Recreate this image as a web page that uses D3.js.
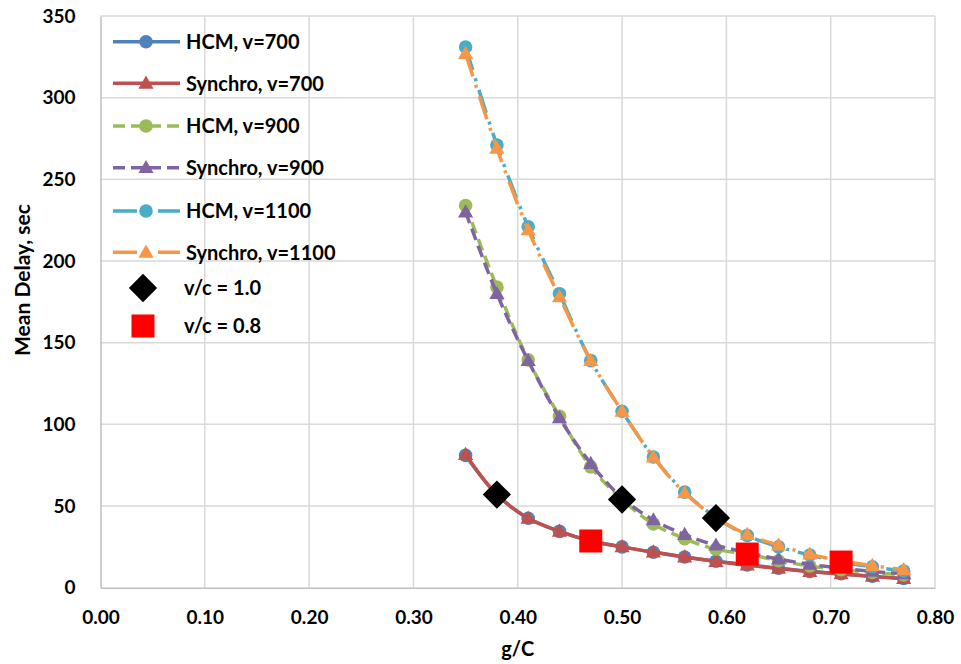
<!DOCTYPE html>
<html><head><meta charset="utf-8">
<script src="https://cdn.jsdelivr.net/npm/d3@7"></script>
<style>
html,body{margin:0;padding:0;background:#fff;}
text{font-family:Lato,"Open Sans",sans-serif;font-weight:bold;fill:#000;}
</style></head>
<body><svg id="chart" width="961" height="664"></svg>
<script>
const gC = [0.35,0.38,0.41,0.44,0.47,0.50,0.53,0.56,0.59,0.62,0.65,0.68,0.71,0.74,0.77];
const hcm700  = [81,57,42.5,34.5,28.6,25,21.7,18.8,16.2,14,12,10,8.5,7,5.6];
const syn700  = [81.5,57,42.5,34.5,28.6,25,21.8,18.8,16,13.8,11.8,9.9,8.4,6.9,5.5];
const hcm900  = [234,184,139.5,105,74,54,39,30,23.5,20.6,16.5,13.3,11,9.3,7.8];
const syn900  = [230,180,139,104,76,55,41.5,32.5,26,21.5,17.5,14.3,12,10,8.5];
const hcm1100 = [331,271,221,180,139,108,80,58.5,43,32,25,20,15.7,12.8,10.2];
const syn1100 = [327,269,219,178,139,108,80,58,43,32.5,26,20.5,16.5,13.5,11];
const vc10 = {x:[0.38,0.50,0.59], y:[57,54,42.6]};
const vc08 = {x:[0.47,0.62,0.71], y:[28.6,20.6,15.7]};
const xTicks = [0,0.1,0.2,0.3,0.4,0.5,0.6,0.7,0.8];
const yTicks = [0,50,100,150,200,250,300,350];

const series = [
  {name:"HCM, v=700", y:hcm700, color:"#4F81BD", marker:"circle", dash:null},
  {name:"Synchro, v=700", y:syn700, color:"#C0504D", marker:"triangle", dash:null},
  {name:"HCM, v=900", y:hcm900, color:"#9BBB59", marker:"circle", dash:"12,6"},
  {name:"Synchro, v=900", y:syn900, color:"#8064A2", marker:"triangle", dash:"12,6"},
  {name:"HCM, v=1100", y:hcm1100, color:"#4BACC6", marker:"circle", dash:"24,9,3,9"},
  {name:"Synchro, v=1100", y:syn1100, color:"#F79646", marker:"triangle", dash:"24,9,3,9"}
];

const svg = d3.select("#chart");
const L=100.5, R=935, T=16, B=587.7;
const x = d3.scaleLinear().domain([0,0.8]).range([L,R]);
const y = d3.scaleLinear().domain([0,350]).range([B,T]);

// gridlines
svg.append("g").selectAll("line.h").data(yTicks.slice(1)).join("line")
  .attr("x1",L).attr("x2",R).attr("y1",d=>y(d)).attr("y2",d=>y(d))
  .attr("stroke","#D9D9D9").attr("stroke-width",1.5);
svg.append("g").selectAll("line.v").data(xTicks.slice(1)).join("line")
  .attr("y1",T).attr("y2",B).attr("x1",d=>x(d)).attr("x2",d=>x(d))
  .attr("stroke","#D9D9D9").attr("stroke-width",1.5);

// axes
const xAxis = svg.append("g").attr("transform",`translate(0,${B})`)
  .call(d3.axisBottom(x).tickValues(xTicks).tickFormat(d3.format(".2f")).tickSize(0).tickPadding(23));
const yAxis = svg.append("g").attr("transform",`translate(${L},0)`)
  .call(d3.axisLeft(y).tickValues(yTicks).tickSize(0).tickPadding(25));
[xAxis,yAxis].forEach(a=>{
  a.select(".domain").attr("stroke","#BFBFBF").attr("stroke-width",1.5);
  a.selectAll("text").style("font-size","19px").style("font-family","Lato").style("font-weight","bold").attr("fill","#000");
});
xAxis.selectAll("text").attr("dy","0.71em");

svg.append("text").attr("x",(L+R)/2).attr("y",656).attr("text-anchor","middle")
  .style("font-size","20px").text("g/C");
svg.append("text").attr("transform","translate(23,280) rotate(-90)").attr("text-anchor","middle")
  .attr("dy","0.35em").style("font-size","21px").text("Mean Delay, sec");

const line = d3.line().x(d=>x(d[0])).y(d=>y(d[1])).curve(d3.curveCatmullRom);
const triPath = d3.symbol().type(d3.symbolTriangle).size(100)();

function drawMarker(g, type, color, cx, cy){
  if(type==="circle"){
    g.append("circle").attr("cx",cx).attr("cy",cy).attr("r",6.8).attr("fill",color);
  } else {
    g.append("path").attr("d",triPath).attr("transform",`translate(${cx},${cy+1})`).attr("fill",color);
  }
}

series.forEach(s=>{
  const pts = gC.map((g,i)=>[g,s.y[i]]);
  const g = svg.append("g");
  g.append("path").attr("d",line(pts)).attr("fill","none").attr("stroke",s.color)
    .attr("stroke-width",3.5).attr("stroke-dasharray",s.dash);
  pts.forEach(p=>drawMarker(g,s.marker,s.color,x(p[0]),y(p[1])));
});

// v/c markers
svg.append("g").selectAll("path").data(vc10.x.map((v,i)=>[v,vc10.y[i]])).join("path")
  .attr("d",d3.symbol().type(d3.symbolSquare).size(400)())
  .attr("transform",d=>`translate(${x(d[0])},${y(d[1])}) rotate(45)`).attr("fill","#000");
svg.append("g").selectAll("rect").data(vc08.x.map((v,i)=>[v,vc08.y[i]])).join("rect")
  .attr("x",d=>x(d[0])-11.5).attr("y",d=>y(d[1])-11.5).attr("width",23).attr("height",23).attr("fill","#FF0000");

// legend
const lg = svg.append("g");
const rows = [41.7,83.3,126,167.7,211,252.3];
series.forEach((s,i)=>{
  const yy = rows[i];
  lg.append("line").attr("x1",113).attr("x2",180).attr("y1",yy).attr("y2",yy)
    .attr("stroke",s.color).attr("stroke-width",3.5).attr("stroke-dasharray",s.dash);
  drawMarker(lg,s.marker,s.color,146,yy);
  lg.append("text").attr("x",186).attr("y",yy).attr("dy","0.36em").style("font-size","20px").text(s.name);
});
lg.append("path").attr("d",d3.symbol().type(d3.symbolSquare).size(400)())
  .attr("transform","translate(143,288) rotate(45)").attr("fill","#000");
lg.append("text").attr("x",184).attr("y",288).attr("dy","0.36em").style("font-size","20px").text("v/c = 1.0");
lg.append("rect").attr("x",131.5).attr("y",314.5).attr("width",23).attr("height",23).attr("fill","#FF0000");
lg.append("text").attr("x",184).attr("y",326).attr("dy","0.36em").style("font-size","20px").text("v/c = 0.8");
</script></body></html>
